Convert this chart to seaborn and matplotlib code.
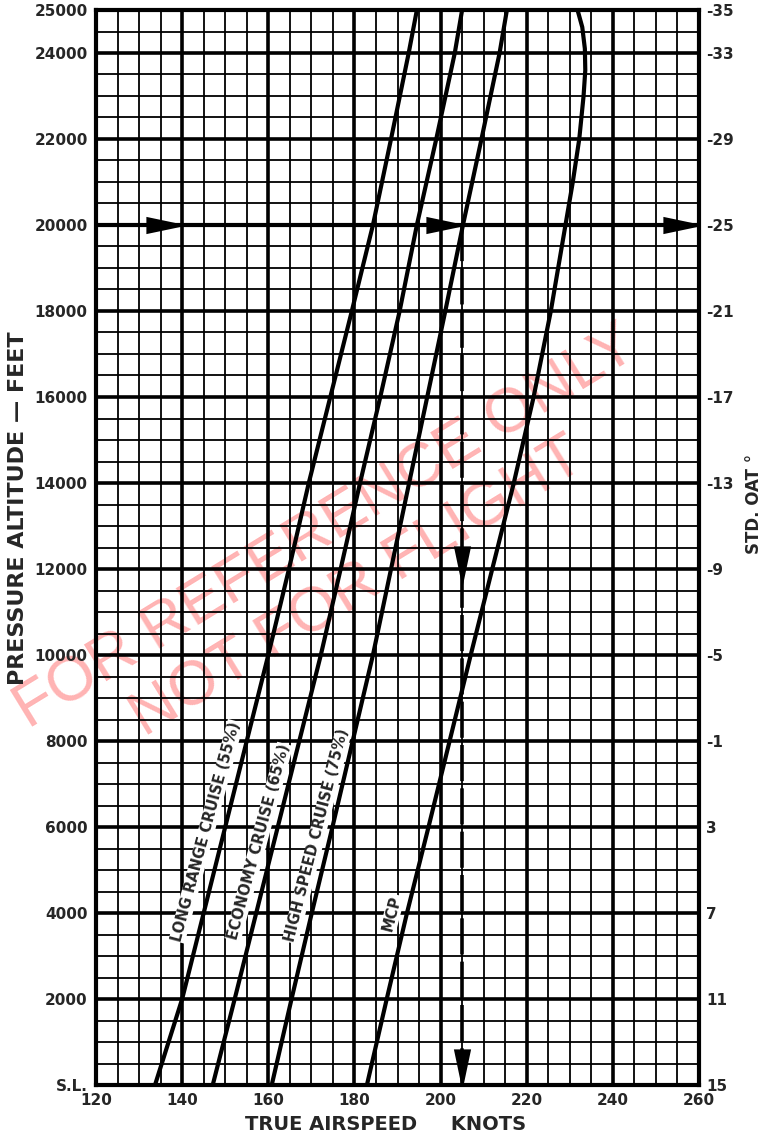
import matplotlib
matplotlib.use("Agg")
import matplotlib.pyplot as plt
import numpy as np
import pandas as pd
import seaborn as sns

# cruise speed chart - true airspeed vs pressure altitude
alt_cruise = [0, 2000, 4000, 6000, 8000, 10000, 12000, 14000, 16000, 18000, 20000, 22000, 24000, 25000]
long_range = [133.7, 140.0, 145.0, 150.0, 155.0, 160.0, 164.8, 169.4, 174.4, 179.4, 184.3, 188.5, 192.6, 194.5]
economy = [147.1, 152.2, 157.2, 162.2, 167.2, 172.2, 176.8, 181.3, 186.0, 190.5, 194.5, 199.0, 203.3, 205.0]
high_speed = [160.8, 165.4, 170.1, 174.9, 179.6, 184.3, 188.5, 192.7, 196.9, 201.1, 205.2, 209.5, 213.7, 215.4]
alt_mcp = [0, 2000, 4000, 6000, 8000, 10000, 12000, 14000, 16000, 18000, 20000, 21000, 22000,
           23000, 23600, 24100, 24600, 25000]
mcp = [182.9, 187.5, 192.2, 197.2, 202.1, 207.0, 212.0, 217.0, 221.6, 225.6, 229.0, 230.7, 232.2,
       233.2, 233.6, 233.5, 232.9, 231.8]

curve_names = ["LONG RANGE CRUISE (55%)", "ECONOMY CRUISE (65%)", "HIGH SPEED CRUISE (75%)", "MCP"]

y_ticks = [0, 2000, 4000, 6000, 8000, 10000, 12000, 14000, 16000, 18000, 20000, 22000, 24000, 25000]
y_labels = ["S.L.", "2000", "4000", "6000", "8000", "10000", "12000", "14000", "16000", "18000",
            "20000", "22000", "24000", "25000"]
oat_labels = ["15", "11", "7", "3", "-1", "-5", "-9", "-13", "-17", "-21", "-25", "-29", "-33", "-35"]
x_ticks = [120, 140, 160, 180, 200, 220, 240, 260]

# worked example: 20000 ft at 205 kt
ex_alt = 20000
ex_tas = 205
ex_right_heads = [140, 205, 260]
ex_down_heads = [11700, 0]

frames = []
for name, alts, tas in zip(curve_names,
                           [alt_cruise, alt_cruise, alt_cruise, alt_mcp],
                           [long_range, economy, high_speed, mcp]):
    frames.append(pd.DataFrame({"curve": name, "alt": alts, "tas": tas}))
df = pd.concat(frames, ignore_index=True)

sns.set_style("white")
plt.rcParams["font.family"] = ["DejaVu Sans"]

W, H = 772, 1135
fig = plt.figure(figsize=(W / 100, H / 100), dpi=100)
ax = fig.add_axes([96 / W, 1 - 1085 / H, (699 - 96) / W, (1085 - 10) / H])

sns.lineplot(data=df, x="tas", y="alt", hue="curve", palette=["black"] * 4,
             sort=False, estimator=None, legend=False, linewidth=3, ax=ax, zorder=3)

ax.set_xlim(120, 260)
ax.set_ylim(0, 25000)
ax.set_xticks(x_ticks)
ax.set_xticks(np.arange(120, 261, 5), minor=True)
ax.set_yticks(y_ticks)
ax.set_yticklabels(y_labels)
ax.set_yticks(np.arange(0, 25001, 500), minor=True)
ax.set_axisbelow(True)
ax.grid(which="major", color="black", linewidth=2.6)
ax.grid(which="minor", color="black", linewidth=1.3)
ax.tick_params(which="both", length=0, labelsize=11, pad=6)
for lab in ax.get_xticklabels() + ax.get_yticklabels():
    lab.set_fontweight("bold")
for sp in ax.spines.values():
    sp.set_linewidth(3)
    sp.set_color("black")
ax.set_xlabel("TRUE AIRSPEED     KNOTS", fontsize=14, fontweight="bold")
ax.xaxis.set_label_coords((386 - 96) / 603, -30 / 1075)
ax.set_ylabel("PRESSURE ALTITUDE — FEET", fontsize=16, fontweight="bold")
ax.yaxis.set_label_coords((28 - 96) / 603, (1085 - 508) / 1075)

ax2 = ax.twinx()
ax2.set_ylim(0, 25000)
ax2.set_yticks(y_ticks)
ax2.set_yticklabels(oat_labels)
ax2.tick_params(length=0, labelsize=11, pad=5)
for lab in ax2.get_yticklabels():
    lab.set_fontweight("bold")
for sp in ax2.spines.values():
    sp.set_visible(False)
ax2.set_ylabel("STD. OAT °", fontsize=12, fontweight="bold")
ax2.yaxis.set_label_coords((745 - 96) / 603, (1085 - 504) / 1075)

# example path: along 20000 ft, then dashed down at 205 kt
ax.plot([120, 260], [ex_alt, ex_alt], color="black", lw=3, zorder=3)
ax.plot([ex_tas, ex_tas], [ex_alt, 0], color="black", lw=2.6, ls=(0, (10, 2)), zorder=3)
# arrowhead markers; the thin tip runs a little past the point so it meets the line visibly
head_right = [(0.12, 0), (-0.88, 0.21), (-0.88, -0.21)]
head_down = [(0, -0.12), (0.21, 0.88), (-0.21, 0.88)]
ax.plot(ex_right_heads, [ex_alt] * len(ex_right_heads), ls="none", marker=head_right,
        ms=52, mew=0, color="black", zorder=4)
ax.plot([ex_tas] * len(ex_down_heads), ex_down_heads, ls="none", marker=head_down,
        ms=52, mew=0, color="black", zorder=4)

# curve labels along the lines
label_pos = [(145.6, 5900), (157.8, 5650), (171.3, 5800), (188.8, 4000)]
for (name, grp), (lx, ly) in zip(df.groupby("curve", sort=False), label_pos):
    p0 = ax.transData.transform((np.interp(2000, grp["alt"], grp["tas"]), 2000))
    p1 = ax.transData.transform((np.interp(10000, grp["alt"], grp["tas"]), 10000))
    ang = np.degrees(np.arctan2(p1[1] - p0[1], p1[0] - p0[0]))
    ax.text(lx, ly, name, rotation=ang - 1, rotation_mode="anchor", ha="center", va="center",
            fontsize=10.5, fontweight="bold", zorder=2.5,
            bbox=dict(facecolor="white", edgecolor="none", pad=0.5))

# watermark
wm = dict(transform=fig.transFigure, rotation=31.5, ha="center", va="center", fontsize=45,
          family="Liberation Sans", color="#ff9a9a", alpha=0.75, zorder=0.2, clip_on=False)
ax.text(326 / W, 1 - 528 / H, "FOR REFERENCE ONLY", **wm)
ax.text(358 / W, 1 - 588 / H, "NOT FOR FLIGHT", **wm)

fig.savefig("out.png", dpi=100)
